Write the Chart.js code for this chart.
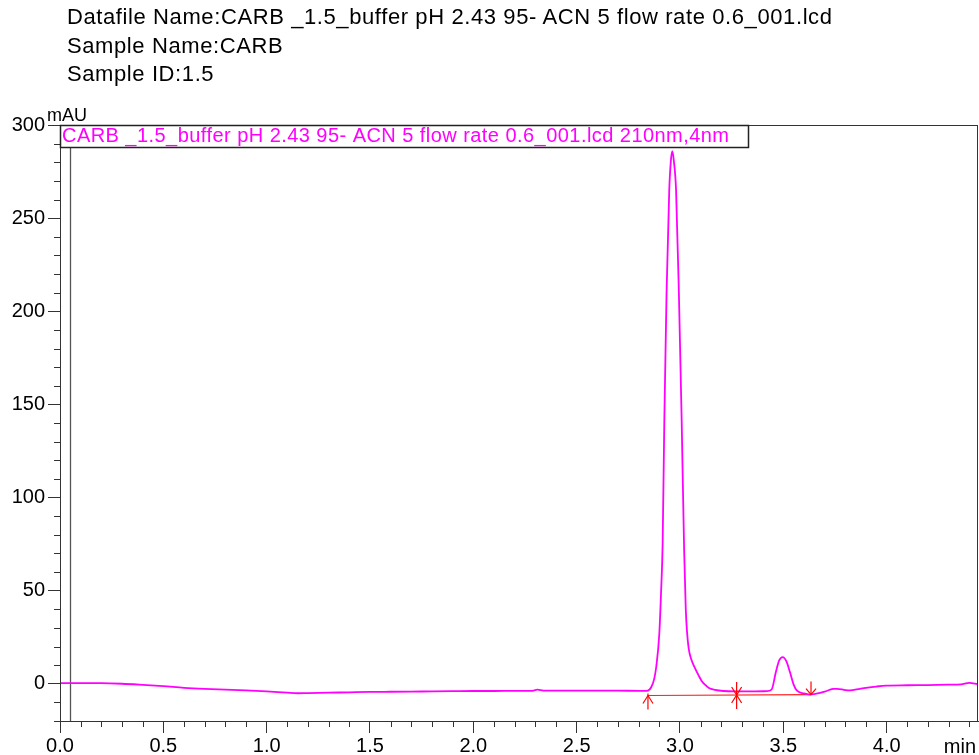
<!DOCTYPE html>
<html>
<head>
<meta charset="utf-8">
<title>CARB 1.5 chromatogram</title>
<script src="https://cdn.jsdelivr.net/npm/chart.js@4.4.1/dist/chart.umd.min.js"></script>
<style>
  body { margin: 0; background: #fff; }
  #wrap { position: relative; width: 979px; height: 755px; overflow: hidden; }
  #chrom { position: absolute; left: 0; top: 0; }
  #header {
    position: absolute; left: 67px; top: 3px;
    font-family: "Liberation Sans", Arial, sans-serif;
    font-size: 22px; letter-spacing: 0.6px; line-height: 28.5px; color: #000;
    white-space: nowrap;
  }
</style>
</head>
<body>
<div id="wrap">
  <canvas id="chrom" width="979" height="755"></canvas>
  <div id="header">
    <div>Datafile Name:CARB _1.5_buffer pH 2.43 95- ACN 5 flow rate 0.6_001.lcd</div>
    <div>Sample Name:CARB</div>
    <div>Sample ID:1.5</div>
  </div>
</div>
<script>
// detector trace, 210 nm
const traceLabel = "CARB _1.5_buffer pH 2.43 95- ACN 5 flow rate 0.6_001.lcd 210nm,4nm";
const retentionTimes = [
  0.00, 0.10, 0.20, 0.30, 0.40, 0.50, 0.60, 0.70, 0.80, 0.90,
  1.00, 1.10, 1.15, 1.20, 1.30, 1.40, 1.50, 1.60, 1.70, 1.80,
  1.90, 2.00, 2.10, 2.20, 2.28, 2.31, 2.34, 2.40, 2.50, 2.60,
  2.70, 2.80, 2.84, 2.86, 2.875, 2.885, 2.90, 2.908, 2.916, 2.924,
  2.935, 2.948, 2.956, 2.963, 2.970, 2.981, 2.995, 3.008, 3.020, 3.028,
  3.034, 3.042, 3.055, 3.072, 3.09, 3.105, 3.121, 3.14, 3.17, 3.21,
  3.27, 3.35, 3.42, 3.443, 3.464, 3.48, 3.497, 3.515, 3.532, 3.55,
  3.565, 3.60, 3.629, 3.66, 3.70, 3.74, 3.76, 3.80, 3.822, 3.871,
  3.90, 3.95, 4.00, 4.10, 4.20, 4.30, 4.36, 4.40, 4.44
];
const absorbance = [
  0.3, 0.3, 0.3, 0.0, -0.6, -1.3, -2.2, -2.8, -3.2, -3.6,
  -4.1, -4.8, -5.1, -5.0, -4.8, -4.6, -4.4, -4.3, -4.2, -4.1,
  -4.0, -3.9, -3.9, -3.8, -3.8, -3.2, -3.7, -3.7, -3.7, -3.7,
  -3.7, -3.8, -3.8, -2.0, 2.5, 9, 27, 48, 75, 140,
  210, 265, 281, 286, 281, 265, 208, 142, 72, 40,
  28, 19, 13, 8.5, 4.5, 1.5, -0.5, -2.3, -3.3, -3.9,
  -4.1, -4.1, -4.0, -3.2, 6.3, 12.5, 14.3, 12, 6.3, -0.5,
  -3.6, -5.2, -5.8, -5.3, -4.2, -2.8, -2.7, -3.4, -3.6, -2.7,
  -2.2, -1.5, -1.0, -0.8, -0.7, -0.5, -0.3, 0.5, -0.2
];

// integration baseline and peak marks
const baselineTimes = [2.845, 3.634];
const baselineValues = [-6.3, -5.8];
const peakStartTimes = [2.845];
const peakDropTimes = [3.274];
const peakEndTimes = [3.634];
const refLineTime = 0.05;

// axes
const xMajorTicks = [0.0, 0.5, 1.0, 1.5, 2.0, 2.5, 3.0, 3.5, 4.0];
const yMajorTicks = [0, 50, 100, 150, 200, 250, 300];
const xMinorStep = 0.1;
const yMinorStep = 10;

const FONT = '"Liberation Sans", Arial, sans-serif';
const AXIS_COLOR = '#333';

function baselineAt(t) {
  const [t0, t1] = baselineTimes;
  const [v0, v1] = baselineValues;
  return v0 + (v1 - v0) * (t - t0) / (t1 - t0);
}

function line(ctx, x0, y0, x1, y1) {
  ctx.beginPath();
  ctx.moveTo(x0, y0);
  ctx.lineTo(x1, y1);
  ctx.stroke();
}

const chromPlugin = {
  id: 'chromExtras',
  beforeDatasetsDraw(chart) {
    const { ctx, chartArea: a, scales: { x } } = chart;
    const px = Math.round(x.getPixelForValue(refLineTime)) + 0.5;
    ctx.save();
    ctx.strokeStyle = '#555';
    ctx.lineWidth = 1.3;
    line(ctx, px, a.top, px, a.bottom);
    ctx.restore();
  },
  afterDatasetsDraw(chart) {
    const { ctx, chartArea: a, scales: { x, y } } = chart;
    ctx.save();

    // peak start / drop / end marks
    ctx.strokeStyle = '#ff0000';
    ctx.lineWidth = 1.2;
    peakStartTimes.forEach(t => {
      const px = x.getPixelForValue(t), py = y.getPixelForValue(baselineAt(t));
      line(ctx, px, py - 2, px, py + 14);
      line(ctx, px - 5, py + 8, px, py);
      line(ctx, px, py, px + 5, py + 8);
    });
    peakDropTimes.forEach(t => {
      const px = x.getPixelForValue(t), py = y.getPixelForValue(baselineAt(t));
      line(ctx, px, py - 13, px, py + 14);
      line(ctx, px - 5, py - 8, px + 5, py + 8);
      line(ctx, px + 5, py - 8, px - 5, py + 8);
    });
    peakEndTimes.forEach(t => {
      const px = x.getPixelForValue(t), py = y.getPixelForValue(baselineAt(t));
      line(ctx, px, py - 13, px, py);
      line(ctx, px - 5, py - 6, px, py);
      line(ctx, px, py, px + 5, py - 6);
    });

    // minor ticks
    ctx.strokeStyle = AXIS_COLOR;
    ctx.lineWidth = 1;
    for (let i = Math.ceil(y.min / yMinorStep); i * yMinorStep <= y.max; i++) {
      const v = i * yMinorStep;
      if (v % 50 === 0) continue;
      const py = Math.round(y.getPixelForValue(v)) + 0.5;
      line(ctx, a.left - 6, py, a.left, py);
    }
    for (let i = 0; i * xMinorStep <= x.max; i++) {
      if (i % 5 === 0) continue;
      const px = Math.round(x.getPixelForValue(i * xMinorStep)) + 0.5;
      line(ctx, px, a.bottom, px, a.bottom + 6);
    }

    // plot frame
    ctx.strokeStyle = AXIS_COLOR;
    ctx.lineWidth = 1;
    ctx.strokeRect(Math.round(a.left) + 0.5, Math.round(a.top) + 0.5,
      Math.round(a.right - a.left) - 1, Math.round(a.bottom - a.top));

    // trace legend box
    ctx.font = '20px ' + FONT;
    if ('letterSpacing' in ctx) ctx.letterSpacing = '0.45px';
    const tx = a.left + 2;
    const tw = ctx.measureText(traceLabel).width;
    const boxTop = Math.round(a.top) + 0.5;
    ctx.fillStyle = '#fff';
    ctx.fillRect(a.left, boxTop, tx + tw + 19 - a.left, 22);
    ctx.strokeStyle = '#222';
    ctx.lineWidth = 1.5;
    ctx.strokeRect(Math.round(a.left) + 0.5, boxTop, Math.round(tx + tw + 19 - a.left), 22);
    ctx.fillStyle = '#ff00ff';
    ctx.textBaseline = 'alphabetic';
    ctx.textAlign = 'left';
    ctx.fillText(traceLabel, tx, a.top + 16.5);
    if ('letterSpacing' in ctx) ctx.letterSpacing = '0px';

    // axis units
    ctx.fillStyle = '#000';
    ctx.font = '18px ' + FONT;
    ctx.fillText('mAU', 47, 121);
    ctx.font = '20px ' + FONT;
    ctx.textAlign = 'right';
    ctx.fillText('min', 976, 753);

    ctx.restore();
  }
};

const points = retentionTimes.map((t, i) => ({ x: t, y: absorbance[i] }));
const baselinePoints = baselineTimes.map((t, i) => ({ x: t, y: baselineValues[i] }));

new Chart(document.getElementById('chrom'), {
  type: 'line',
  data: {
    datasets: [
      {
        label: traceLabel,
        data: points,
        borderColor: '#ff00ff',
        borderWidth: 1.8,
        pointRadius: 0,
        cubicInterpolationMode: 'monotone',
        fill: false,
      },
      {
        label: 'baseline',
        data: baselinePoints,
        borderColor: '#ff2020',
        borderWidth: 1.2,
        pointRadius: 0,
        fill: false,
      },
    ],
  },
  options: {
    responsive: false,
    animation: false,
    layout: { padding: { top: 125, right: 1, bottom: 0, left: 0 } },
    plugins: {
      legend: { display: false },
      tooltip: { enabled: false },
    },
    scales: {
      x: {
        type: 'linear',
        min: 0,
        max: 4.442,
        afterBuildTicks: s => { s.ticks = xMajorTicks.map(v => ({ value: v })); },
        afterFit: s => { s.height = 34; },
        ticks: {
          callback: v => Number(v).toFixed(1),
          color: '#000',
          font: { family: FONT, size: 20 },
          padding: 1,
          maxRotation: 0,
          autoSkip: false,
        },
        grid: { drawOnChartArea: false, tickLength: 12, color: AXIS_COLOR },
        border: { color: AXIS_COLOR },
      },
      y: {
        min: -20,
        max: 300,
        afterBuildTicks: s => { s.ticks = yMajorTicks.map(v => ({ value: v })); },
        afterFit: s => { s.width = 60; },
        ticks: {
          color: '#000',
          font: { family: FONT, size: 20 },
          padding: 3,
        },
        grid: { drawOnChartArea: false, tickLength: 12, color: AXIS_COLOR },
        border: { color: AXIS_COLOR },
      },
    },
  },
  plugins: [chromPlugin],
});
</script>
</body>
</html>
